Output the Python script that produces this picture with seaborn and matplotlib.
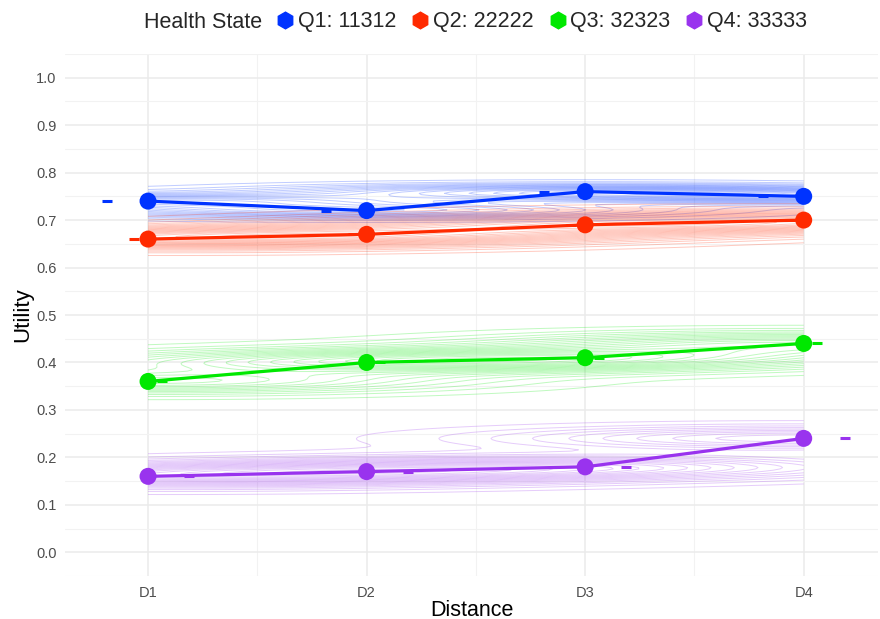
import numpy as np
import pandas as pd
import matplotlib
matplotlib.use("Agg")
import matplotlib.pyplot as plt
import seaborn as sns
from matplotlib.lines import Line2D
from matplotlib.ticker import MultipleLocator

# Mean utility by distance for each health state
distances = ["D1", "D2", "D3", "D4"]
states = ["Q1: 11312", "Q2: 22222", "Q3: 32323", "Q4: 33333"]
q1 = [0.74, 0.72, 0.76, 0.75]
q2 = [0.66, 0.67, 0.69, 0.70]
q3 = [0.36, 0.40, 0.41, 0.44]
q4 = [0.16, 0.17, 0.18, 0.24]
y_ticks = [0.0, 0.1, 0.2, 0.3, 0.4, 0.5, 0.6, 0.7, 0.8, 0.9, 1.0]

palette = ["#0033FF", "#FF2A00", "#00E800", "#9933EE"]

series = [q1, q2, q3, q4]
pos = np.arange(1, len(distances) + 1)
df = pd.DataFrame({
    "Distance": np.tile(pos, len(states)),
    "Utility": np.concatenate(series),
    "Health State": np.repeat(states, len(distances)),
})
# dodge offsets for the per-state marks
dodge = dict(zip(states, [-0.1875, -0.0625, 0.0625, 0.1875]))
df["Dodged"] = df["Distance"] + df["Health State"].map(dodge)

sns.set_theme(style="whitegrid")
plt.rcParams["font.family"] = ["Liberation Sans", "DejaVu Sans"]

fig = plt.figure(figsize=(8.8, 6.19), dpi=100)
ax = fig.add_axes([65 / 880, 1 - 576 / 619, (878 - 65) / 880, (576 - 54) / 619])
ax.set_facecolor("white")


def nrd(v):
    v = np.asarray(v, float)
    q75, q25 = np.percentile(v, [75, 25])
    s = min(np.std(v, ddof=1), (q75 - q25) / 1.34)
    return 4 * 1.06 * s * len(v) ** (-0.2)


# 2-D kernel density contours for each state
gx = np.linspace(1, 4, 120)
gy = np.linspace(0.05, 0.85, 300)
GX, GY = np.meshgrid(gx, gy)
for vals, col in zip(series, palette):
    hx = nrd(pos) / 4
    hy = nrd(vals) / 4
    z = np.zeros_like(GX)
    for xv, yv in zip(pos, vals):
        z += np.exp(-0.5 * ((GX - xv) / hx) ** 2 - 0.5 * ((GY - yv) / hy) ** 2)
    z /= len(vals) * 2 * np.pi * hx * hy
    levels = np.linspace(z.max() * 0.04, z.max() * 0.97, 18)
    ax.contour(GX, GY, z, levels=levels, colors=[col], alpha=0.25,
               linewidths=0.7, zorder=1)

# short dodged marks
for st, col in zip(states, palette):
    sub = df[df["Health State"] == st]
    ax.plot(sub["Dodged"], sub["Utility"], linestyle="none", marker="_",
            markersize=6.5, markeredgewidth=2.2, color=col, zorder=2)

sns.lineplot(data=df, x="Distance", y="Utility", hue="Health State",
             palette=palette, linewidth=2.3, legend=False, ax=ax, zorder=3)
sns.scatterplot(data=df, x="Distance", y="Utility", hue="Health State",
                palette=palette, s=150, linewidth=0, legend=False, ax=ax,
                zorder=4)

ax.set_xlim(0.62, 4.34)
ax.set_ylim(-0.05, 1.05)
ax.set_xticks(pos)
ax.set_xticklabels(distances)
ax.set_yticks(y_ticks)
ax.set_yticklabels([f"{t:.1f}" for t in y_ticks])
ax.xaxis.set_minor_locator(MultipleLocator(0.5))
ax.yaxis.set_minor_locator(MultipleLocator(0.05))
ax.grid(which="major", color="#EBEBEB", linewidth=1.1)
ax.grid(which="minor", color="#F2F2F2", linewidth=0.8)
ax.set_axisbelow(True)
for sp in ax.spines.values():
    sp.set_visible(False)
ax.tick_params(axis="both", which="both", length=0, labelsize=10.5,
               labelcolor="#4D4D4D")
ax.tick_params(axis="y", pad=6)
ax.tick_params(axis="x", pad=7)
ax.set_xlabel("Distance", fontsize=15.5, color="black", labelpad=0)
ax.set_ylabel("Utility", fontsize=16, color="black", labelpad=2)

# legend across the top with an inline title
handles = [Line2D([], [], linestyle="none", marker="h", markersize=12,
                  markerfacecolor=c, markeredgecolor=c) for c in palette]
fig.legend(handles, states, loc="center left", bbox_to_anchor=(266 / 880, 1 - 22 / 619),
           ncol=4, frameon=False, fontsize=15.5, handletextpad=0.1,
           columnspacing=0.6, handlelength=1.0, borderaxespad=0)
fig.text(262 / 880, 1 - 22 / 619, "Health State", ha="right", va="center",
         fontsize=15.5)

fig.savefig("out.png", dpi=100)
